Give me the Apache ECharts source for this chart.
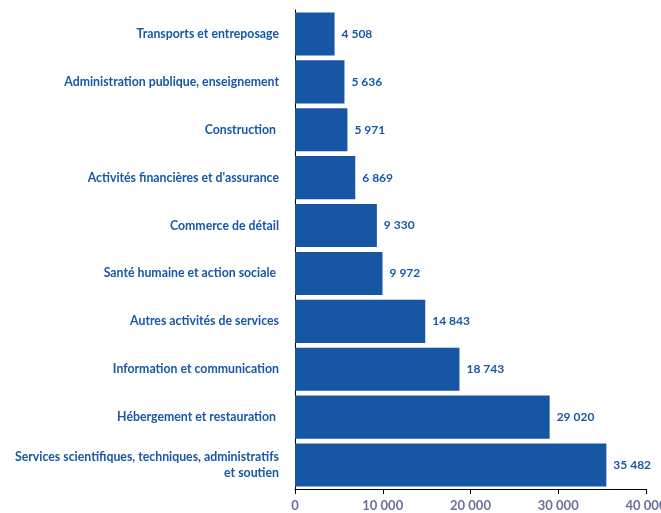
<!DOCTYPE html>
<html><head><meta charset="utf-8">
<script src="https://cdn.jsdelivr.net/npm/echarts@6/dist/echarts.min.js"></script>
<style>html,body{margin:0;padding:0;background:#fff}#c{width:661px;height:513px}</style>
</head><body><div id="c"></div>
<script>
const categories = [
  "Transports et entreposage",
  "Administration publique, enseignement",
  "Construction ",
  "Activités financières et d'assurance",
  "Commerce de détail",
  "Santé humaine et action sociale ",
  "Autres activités de services",
  "Information et communication",
  "Hébergement et restauration ",
  "Services scientifiques, techniques, administratifs\net soutien"
];
const values = [4508, 5636, 5971, 6869, 9330, 9972, 14843, 18743, 29020, 35482];
const xTicks = [0, 10000, 20000, 30000, 40000];

const fmt = v => String(v).replace(/\B(?=(\d{3})+(?!\d))/g, ' ');
const chart = echarts.init(document.getElementById('c'), null, {renderer:'canvas'});
chart.setOption({
  animation:false,
  grid:{left:295, right:15, top:10, bottom:24, containLabel:false, outerBoundsMode:'none'},
  xAxis:{type:'value', min:xTicks[0], max:xTicks[xTicks.length-1], interval:10000,
    splitLine:{show:false},
    axisLine:{show:true, lineStyle:{color:'#000', width:1}},
    axisTick:{show:true, length:5, lineStyle:{color:'#000'}},
    axisLabel:{formatter:fmt, color:'#6b6f9a', fontFamily:'Lato', fontWeight:'bold', fontSize:13, margin:10}
  },
  yAxis:{type:'category', data:categories, inverse:true,
    axisLine:{show:true, lineStyle:{color:'#000', width:1}},
    axisTick:{show:false},
    axisLabel:{color:'#1a57a6', fontFamily:'Lato', fontWeight:'bold', fontSize:12.3, margin:16, align:'right', lineHeight:16}
  },
  series:[{type:'bar', data:values, barCategoryGap:'10%', itemStyle:{color:'#1656a5'},
    label:{show:true, position:'right', formatter:p=>fmt(p.value), color:'#1a57a6', fontFamily:'Lato', fontWeight:'bold', fontSize:12, distance:7}
  }]
});
</script></body></html>
